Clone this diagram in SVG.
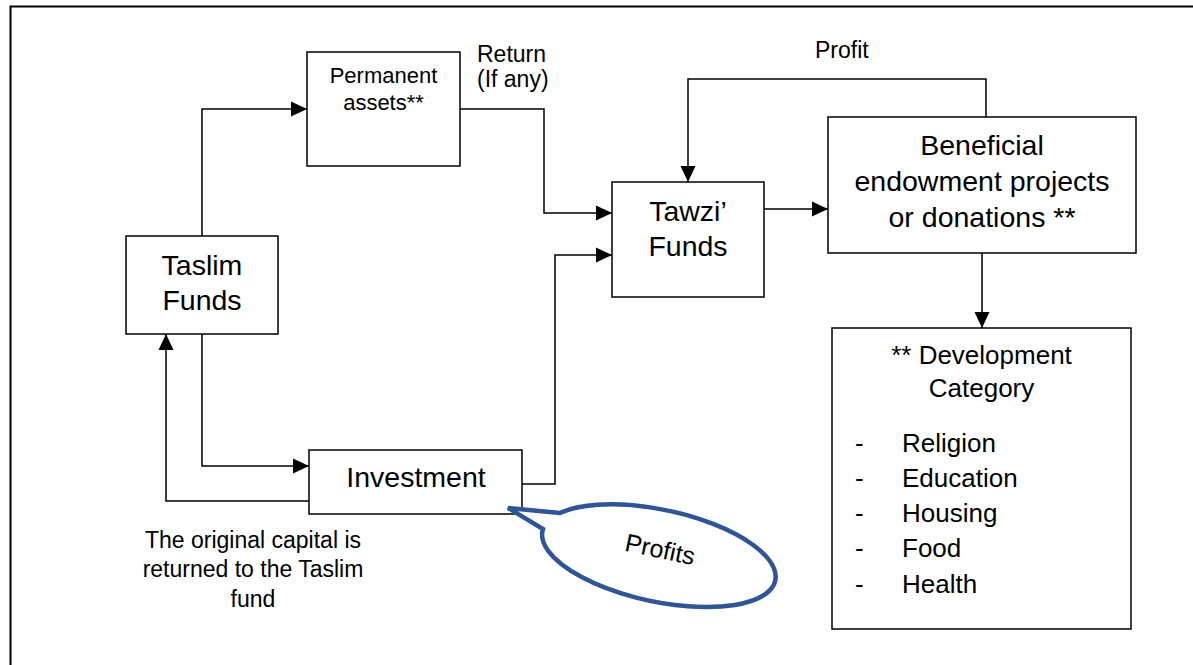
<svg xmlns="http://www.w3.org/2000/svg" width="1193" height="665" viewBox="0 0 1193 665">
<style>
text{font-family:"Liberation Sans",Arial,sans-serif;fill:#000}
.box{fill:#fff;stroke:#000;stroke-width:1.5}
.big{font-size:28.5px;text-anchor:middle}
.lbl{font-size:23px}
.mid{text-anchor:middle}
.dev{font-size:26px}
.ln{fill:none;stroke:#000;stroke-width:1.5}
</style>
<defs>
<marker id="ah" markerUnits="userSpaceOnUse" markerWidth="16" markerHeight="16" viewBox="0 0 16 16" refX="16" refY="8" orient="auto">
<path d="M0,0.5 L16,8 L0,15.5 Z" fill="#000"/>
</marker>
</defs>
<rect x="10.5" y="6.5" width="1200" height="700" fill="#fff" stroke="#000" stroke-width="2"/>
<g id="connectors">
<path class="ln" d="M202,236 V109 H307" marker-end="url(#ah)"/>
<path class="ln" d="M202,334 V466 H309" marker-end="url(#ah)"/>
<path class="ln" d="M309,501 H166 V334" marker-end="url(#ah)"/>
<path class="ln" d="M460,109 H544 V213 H612" marker-end="url(#ah)"/>
<path class="ln" d="M522,484 H555 V255 H612" marker-end="url(#ah)"/>
<path class="ln" d="M764,209 H828" marker-end="url(#ah)"/>
<path class="ln" d="M986,117 V79 H688 V182" marker-end="url(#ah)"/>
<path class="ln" d="M982,253 V328" marker-end="url(#ah)"/>
<text class="lbl" x="477" y="62">Return</text>
<text class="lbl" x="477" y="87">(If any)</text>
<text class="lbl" x="815" y="58">Profit</text>
<text class="lbl mid" x="253" y="548">The original capital is</text>
<text class="lbl mid" x="253" y="577">returned to the Taslim</text>
<text class="lbl mid" x="253" y="607">fund</text>
</g>
<g id="permanent">
<rect class="box" x="307" y="52" width="153" height="114"/>
<text class="mid" style="font-size:22px" x="383.5" y="83">Permanent</text>
<text class="mid" style="font-size:22px" x="383.5" y="110">assets**</text>
</g>
<g id="taslim">
<rect class="box" x="126" y="236" width="152" height="98"/>
<text class="big" x="202" y="275">Taslim</text>
<text class="big" x="202" y="310">Funds</text>
</g>
<g id="investment">
<rect class="box" x="309" y="450" width="213" height="64"/>
<text class="big" x="416" y="487">Investment</text>
</g>
<g id="tawzi">
<rect class="box" x="612" y="182" width="152" height="115"/>
<text class="big" x="688" y="221">Tawzi’</text>
<text class="big" x="688" y="256">Funds</text>
</g>
<g id="beneficial">
<rect class="box" x="828" y="117" width="308" height="136"/>
<text class="big" x="982" y="155">Beneficial</text>
<text class="big" x="982" y="191">endowment projects</text>
<text class="big" x="982" y="227">or donations **</text>
</g>
<g id="development">
<rect class="box" x="832" y="328" width="299" height="301"/>
<text class="dev mid" x="981.5" y="364">** Development</text>
<text class="dev mid" x="981.5" y="397">Category</text>
<text class="dev" x="855" y="452">-</text><text class="dev" x="902" y="452">Religion</text>
<text class="dev" x="855" y="487">-</text><text class="dev" x="902" y="487">Education</text>
<text class="dev" x="855" y="522">-</text><text class="dev" x="902" y="522">Housing</text>
<text class="dev" x="855" y="557">-</text><text class="dev" x="902" y="557">Food</text>
<text class="dev" x="855" y="593">-</text><text class="dev" x="902" y="593">Health</text>
</g>
<g id="profits">
<path d="M560,513 L508,508 L543,529 A119,46 12 1 0 560,513 Z" fill="#fff" stroke="#2F5597" stroke-width="4.5" stroke-linejoin="miter"/>
<text class="mid" style="font-size:25px" x="660" y="558" transform="rotate(12 660 550)">Profits</text>
</g>
</svg>
